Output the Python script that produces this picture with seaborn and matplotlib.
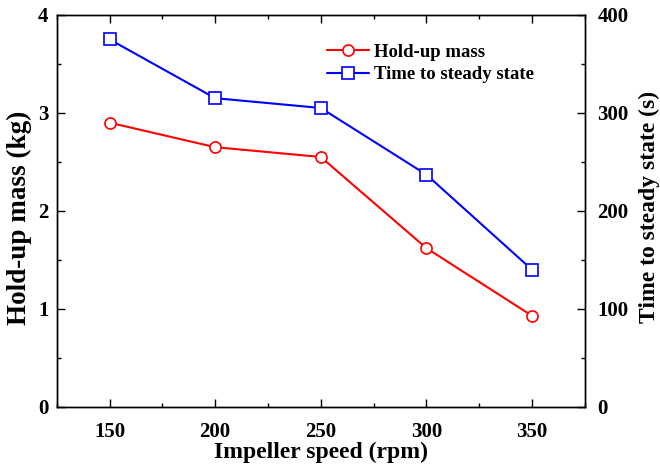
import matplotlib
matplotlib.use("Agg")
import matplotlib.pyplot as plt
import seaborn as sns
import pandas as pd
from matplotlib.ticker import MultipleLocator
from matplotlib.lines import Line2D

speed = [150, 200, 250, 300, 350]
holdup_mass = [2.90, 2.65, 2.55, 1.62, 0.93]
time_steady = [375, 315, 305, 237, 140]

sns.set_theme(style="white")
plt.rcParams['font.family'] = ['Liberation Serif', 'DejaVu Serif']
plt.rcParams['font.weight'] = 'bold'
plt.rcParams['axes.labelcolor'] = 'black'
plt.rcParams['text.color'] = 'black'

df = pd.DataFrame({"speed": speed, "mass": holdup_mass, "time": time_steady})

fig = plt.figure(figsize=(6.6, 4.65), dpi=100)
ax = fig.add_axes([0.086, 0.125, 0.8, 0.843])
ax2 = ax.twinx()

mk = dict(markersize=8, markerfacecolor="white", markeredgewidth=1.2, linewidth=1.5)
sns.lineplot(data=df, x="speed", y="mass", ax=ax, color="red", marker="o",
             markeredgecolor="red", **mk)
sns.lineplot(data=df, x="speed", y="time", ax=ax2, color="blue", marker="s",
             markeredgecolor="blue", **mk)

ax.set_xlim(125, 375)
ax.set_ylim(0, 4)
ax2.set_ylim(0, 400)
ax.xaxis.set_major_locator(MultipleLocator(50))
ax.xaxis.set_minor_locator(MultipleLocator(25))
ax.yaxis.set_major_locator(MultipleLocator(1))
ax.yaxis.set_minor_locator(MultipleLocator(0.5))
ax2.yaxis.set_major_locator(MultipleLocator(100))
ax2.yaxis.set_minor_locator(MultipleLocator(50))

for a in (ax, ax2):
    a.tick_params(which="both", direction="in", width=1.0, labelsize=15, colors="black")
    a.tick_params(which="major", length=6)
    a.tick_params(which="minor", length=3)
    for s in a.spines.values():
        s.set_color("black")
        s.set_linewidth(1.0)
ax.tick_params(axis="x", which="both", top=True, bottom=True, pad=11)
ax.tick_params(axis="y", which="both", left=True, right=False, pad=6)
ax2.tick_params(axis="y", which="both", left=False, right=True, pad=9)
for lab in ax.get_xticklabels() + ax.get_yticklabels() + ax2.get_yticklabels():
    lab.set_fontweight("bold")

ax.set_xlabel("Impeller speed (rpm)", fontsize=17, fontweight="bold", labelpad=0)
ax.set_ylabel("Hold-up mass (kg)", fontsize=19.5, fontweight="bold")
ax2.set_ylabel("Time to steady state (s)", fontsize=17, fontweight="bold")
ax.yaxis.set_label_coords(-0.047, 0.482)
ax2.yaxis.set_label_coords(1.102, 0.51)

handles = [
    Line2D([], [], color="red", marker="o", markeredgecolor="red", **mk),
    Line2D([], [], color="blue", marker="s", markeredgecolor="blue", **mk),
]
ax2.legend(handles, ["Hold-up mass", "Time to steady state"], loc="upper left",
           bbox_to_anchor=(0.479, 0.97), frameon=False,
           prop={"family": "Liberation Serif", "weight": "bold", "size": 13.5},
           handlelength=2.24, handletextpad=0.27, labelspacing=0.3)

fig.savefig("out.png", dpi=100)
